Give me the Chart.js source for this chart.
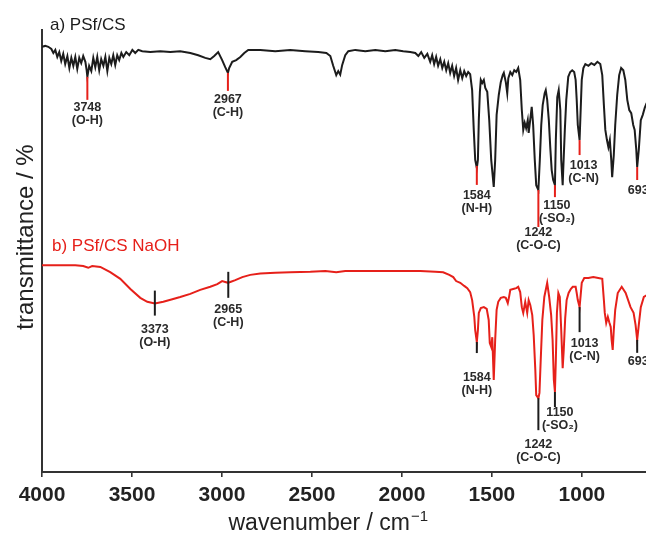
<!DOCTYPE html>
<html>
<head>
<meta charset="utf-8">
<script src="https://cdn.jsdelivr.net/npm/chart.js@4.4.1/dist/chart.umd.min.js"></script>
<style>
  html, body { margin: 0; padding: 0; background: #ffffff; }
  #wrap { width: 646px; height: 533px; }
</style>
</head>
<body>
<div id="wrap"><canvas id="ftir" width="646" height="533"></canvas></div>
<script>
// FTIR spectra: [wavenumber (cm-1), transmittance (offset, a.u.)]
const spectrumA = [
  [4000, 96.2], [3982, 96.4], [3965, 96.2], [3948, 95.7], [3937, 94.8], [3926, 95.5],
  [3915, 93.9], [3904, 95.0], [3893, 93.0], [3882, 94.6], [3871, 92.3], [3859, 94.1],
  [3848, 91.4], [3837, 93.7], [3826, 91.9], [3815, 93.9], [3804, 91.2], [3793, 93.7],
  [3782, 92.5], [3771, 94.1], [3759, 92.8], [3752, 90.9], [3748, 89.4], [3738, 91.9],
  [3726, 90.7], [3715, 93.7], [3704, 91.6], [3693, 93.9], [3682, 90.9], [3671, 93.4],
  [3659, 91.9], [3648, 93.9], [3637, 90.7], [3626, 93.7], [3615, 92.3], [3604, 94.3],
  [3593, 92.1], [3582, 94.3], [3571, 93.2], [3559, 94.8], [3548, 93.9], [3532, 95.0],
  [3515, 94.3], [3498, 95.5], [3482, 94.8], [3465, 95.5], [3443, 95.2], [3398, 95.0],
  [3343, 95.2], [3287, 95.0], [3232, 95.2], [3176, 94.8], [3132, 94.3], [3093, 93.7],
  [3065, 93.4], [3043, 94.1], [3021, 95.0], [2999, 93.2], [2982, 91.6], [2967, 90.3],
  [2960, 91.4], [2943, 92.8], [2921, 93.2], [2898, 93.9], [2876, 94.8], [2854, 95.5],
  [2787, 95.5], [2704, 95.2], [2621, 95.5], [2537, 95.2], [2465, 95.0], [2420, 94.8],
  [2398, 94.1], [2382, 91.9], [2365, 89.8], [2354, 90.7], [2343, 89.9], [2332, 92.1],
  [2315, 94.3], [2298, 95.2], [2259, 95.5], [2204, 95.2], [2148, 95.5], [2093, 95.2],
  [2037, 95.5], [1993, 95.2], [1954, 95.0], [1926, 94.8], [1909, 94.1], [1893, 95.0],
  [1876, 93.7], [1859, 94.6], [1843, 92.8], [1832, 94.3], [1821, 92.3], [1810, 93.9],
  [1799, 91.9], [1787, 93.4], [1776, 91.4], [1765, 92.8], [1754, 90.9], [1743, 92.5],
  [1732, 90.3], [1721, 91.9], [1710, 89.6], [1699, 91.4], [1688, 88.7], [1676, 90.9],
  [1665, 89.1], [1654, 90.7], [1643, 89.6], [1632, 90.5], [1621, 90.0], [1610, 86.4],
  [1601, 77.4], [1593, 70.6], [1584, 68.8], [1578, 70.6], [1573, 79.6], [1567, 86.0],
  [1562, 88.7], [1554, 88.0], [1545, 88.7], [1537, 86.9], [1526, 86.0], [1515, 79.6],
  [1504, 70.6], [1490, 64.5], [1482, 70.6], [1474, 80.8], [1462, 85.3], [1451, 88.2],
  [1440, 89.8], [1434, 90.3], [1423, 88.2], [1415, 85.7], [1409, 89.1], [1398, 90.5],
  [1387, 89.8], [1376, 90.9], [1365, 90.5], [1354, 91.4], [1343, 88.7], [1334, 81.9],
  [1326, 77.4], [1318, 79.0], [1310, 77.8], [1301, 79.6], [1296, 76.7], [1284, 80.8],
  [1279, 82.6], [1271, 78.5], [1262, 70.6], [1254, 64.9], [1242, 63.8], [1234, 70.6],
  [1226, 78.5], [1218, 83.0], [1207, 85.7], [1201, 86.4], [1193, 84.2], [1184, 79.6],
  [1176, 73.5], [1168, 68.3], [1160, 66.1], [1150, 64.9], [1145, 75.1], [1137, 84.8],
  [1129, 86.4], [1120, 81.9], [1115, 70.6], [1107, 64.9], [1104, 68.3], [1095, 77.4],
  [1087, 84.2], [1076, 89.4], [1065, 90.5], [1054, 90.9], [1043, 90.5], [1035, 88.7],
  [1029, 84.2], [1023, 78.5], [1013, 75.1], [1007, 81.9], [1001, 88.7], [992, 91.4],
  [981, 92.3], [964, 91.9], [948, 92.5], [931, 92.1], [914, 92.8], [898, 92.3],
  [887, 89.8], [878, 83.0], [870, 77.4], [861, 75.1], [853, 73.5], [845, 75.1],
  [837, 70.6], [832, 66.7], [823, 71.7], [815, 78.5], [804, 85.3], [793, 89.8],
  [782, 91.4], [770, 90.9], [759, 88.7], [748, 84.2], [737, 81.9], [726, 81.2],
  [715, 78.5], [707, 77.4], [698, 72.9], [693, 69.0], [684, 72.9], [673, 79.6],
  [662, 80.8], [651, 82.4], [640, 83.5]
];

const spectrumB = [
  [4000, 46.8], [3898, 46.8], [3815, 46.8], [3771, 46.6], [3743, 46.2], [3721, 46.6],
  [3676, 46.4], [3621, 45.2], [3565, 43.7], [3509, 41.4], [3454, 39.4], [3415, 38.5],
  [3373, 38.1], [3326, 38.5], [3276, 39.1], [3232, 39.6], [3176, 40.3], [3121, 41.2],
  [3065, 41.9], [3026, 42.5], [2999, 43.2], [2982, 43.0], [2965, 42.8], [2954, 43.0],
  [2926, 43.4], [2887, 44.1], [2843, 44.6], [2787, 44.9], [2704, 45.1], [2621, 45.2],
  [2509, 45.3], [2426, 45.5], [2365, 45.2], [2315, 45.5], [2176, 45.5], [2009, 45.5],
  [1898, 45.5], [1815, 45.3], [1771, 45.2], [1737, 44.6], [1715, 44.1], [1699, 43.2],
  [1676, 42.8], [1654, 42.1], [1637, 41.6], [1621, 40.7], [1610, 38.9], [1598, 35.1],
  [1593, 32.1], [1584, 29.4], [1578, 32.1], [1573, 36.0], [1562, 37.1], [1545, 37.3],
  [1529, 36.9], [1518, 34.4], [1512, 29.2], [1504, 28.3], [1498, 30.5], [1490, 20.8],
  [1482, 29.9], [1474, 36.7], [1465, 38.5], [1451, 39.4], [1434, 39.6], [1423, 39.4],
  [1412, 38.2], [1404, 39.8], [1398, 41.2], [1382, 41.4], [1365, 41.6], [1354, 41.9],
  [1343, 40.7], [1334, 37.3], [1326, 36.0], [1315, 38.5], [1304, 36.0], [1296, 38.9],
  [1287, 37.8], [1276, 35.5], [1268, 31.0], [1259, 23.1], [1254, 17.4], [1242, 16.7],
  [1236, 17.9], [1229, 25.3], [1220, 34.4], [1209, 39.6], [1193, 42.8], [1182, 39.6],
  [1171, 35.5], [1163, 29.9], [1156, 20.8], [1150, 18.1], [1145, 25.3], [1139, 36.0],
  [1131, 40.5], [1123, 39.6], [1115, 32.1], [1107, 23.5], [1101, 27.6], [1093, 34.8],
  [1085, 38.9], [1074, 40.5], [1062, 41.4], [1051, 41.9], [1035, 41.9], [1029, 40.5],
  [1023, 38.9], [1013, 37.3], [1007, 40.0], [1001, 42.8], [987, 43.9], [964, 43.9],
  [937, 44.1], [909, 43.9], [887, 43.7], [878, 38.9], [873, 36.0], [865, 33.7],
  [856, 35.1], [848, 33.9], [840, 32.8], [835, 29.9], [829, 27.6], [823, 32.1],
  [815, 36.7], [801, 40.5], [779, 41.9], [757, 40.5], [730, 37.3], [713, 36.0],
  [702, 33.3], [693, 29.9], [684, 33.3], [673, 37.3], [656, 39.6], [640, 40.0]
];

const seriesNames = ['a) PSf/CS', 'b) PSf/CS NaOH'];

// Assigned bands (cm-1) and their group labels
const peaksA = [3748, 2967, 1584, 1242, 1150, 1013, 693];
const groupsA = ['(O-H)', '(C-H)', '(N-H)', '(C-O-C)', '(-SO\u2082)', '(C-N)', ''];
const peaksB = [3373, 2965, 1584, 1242, 1150, 1013, 693];
const groupsB = ['(O-H)', '(C-H)', '(N-H)', '(C-O-C)', '(-SO\u2082)', '(C-N)', ''];

const xTickValues = [4000, 3500, 3000, 2500, 2000, 1500, 1000];
const xTitle = 'wavenumber / cm';
const xTitleSup = '\u22121';
const yTitle = 'transmittance / %';

// Marker geometry, in px relative to the curve: [line start, line end, first label line, label x shift]
const markLayoutA = [[0, 23, 31, 0], [0, 18, 27, 0], [-2, 17, 28, 0], [0, 37, 43, 0],
                     [0, 12, 20, 2], [0, 15, 25, 4], [0, 13, 24, 1]];
const markLayoutB = [[-13, 12, 26, 0], [-11, 15, 27, 0], [0, 11, 35, 0], [0, 32, 46, 0],
                     [0, 15, 21, 5], [0, 25, 36, 5], [0, 13, 22, 1]];

const FONT = '"Liberation Sans", Arial, Helvetica, sans-serif';
const RED = '#e6201a';
const INK = '#1c1c1c';

function valueAt(series, wn) {
  for (let i = 0; i < series.length - 1; i++) {
    const [w0, v0] = series[i];
    const [w1, v1] = series[i + 1];
    if (wn <= w0 && wn >= w1) {
      return w0 === w1 ? v0 : v0 + (v1 - v0) * (w0 - wn) / (w0 - w1);
    }
  }
  return series[series.length - 1][1];
}

function drawPeaks(chart, series, peaks, groups, layout, markColor) {
  const { ctx, scales: { x, y } } = chart;
  ctx.save();
  ctx.lineWidth = 2;
  ctx.strokeStyle = markColor;
  ctx.fillStyle = '#2a2a2a';
  ctx.font = 'bold 12.5px ' + FONT;
  ctx.textAlign = 'center';
  ctx.textBaseline = 'middle';
  peaks.forEach((wn, i) => {
    const px = x.getPixelForValue(wn);
    const py = y.getPixelForValue(valueAt(series, wn));
    const [a, b, l, dx] = layout[i];
    ctx.beginPath();
    ctx.moveTo(px, py + a);
    ctx.lineTo(px, py + b);
    ctx.stroke();
    ctx.fillText(String(wn), px + dx, py + l);
    if (groups[i]) ctx.fillText(groups[i], px + dx, py + l + 13);
  });
  ctx.restore();
}

const annotations = {
  id: 'ftirAnnotations',
  afterDatasetsDraw(chart) {
    drawPeaks(chart, spectrumA, peaksA, groupsA, markLayoutA, RED);
    drawPeaks(chart, spectrumB, peaksB, groupsB, markLayoutB, INK);
  },
  afterDraw(chart) {
    const { ctx, chartArea } = chart;
    ctx.save();
    // series captions
    ctx.font = '17px ' + FONT;
    ctx.textAlign = 'left';
    ctx.textBaseline = 'middle';
    ctx.fillStyle = INK;
    ctx.fillText(seriesNames[0], chartArea.left + 8, chartArea.top - 5);
    ctx.fillStyle = RED;
    ctx.fillText(seriesNames[1], chartArea.left + 10, chartArea.top + 216);

    // x axis title with superscript
    ctx.fillStyle = '#222';
    ctx.textBaseline = 'alphabetic';
    const mainFont = '23px ' + FONT;
    const supFont = '15px ' + FONT;
    ctx.font = mainFont;
    const wMain = ctx.measureText(xTitle).width;
    ctx.font = supFont;
    const wSup = ctx.measureText(xTitleSup).width;
    const cx = chartArea.left + chartArea.width * 0.474;
    const x0 = cx - (wMain + 1 + wSup) / 2;
    const base = chartArea.bottom + 58;
    ctx.font = mainFont;
    ctx.fillText(xTitle, x0, base);
    ctx.font = supFont;
    ctx.fillText(xTitleSup, x0 + wMain + 1, base - 9);

    // y axis title
    ctx.translate(33, chartArea.top + 207);
    ctx.rotate(-Math.PI / 2);
    ctx.textAlign = 'center';
    ctx.font = '24px ' + FONT;
    ctx.fillText(yTitle, 0, 0);
    ctx.restore();
  }
};

new Chart(document.getElementById('ftir'), {
  type: 'line',
  data: {
    datasets: [
      {
        label: seriesNames[0],
        data: spectrumA.map(([w, t]) => ({ x: w, y: t })),
        borderColor: INK,
        borderWidth: 2,
        pointRadius: 0,
        tension: 0,
        fill: false
      },
      {
        label: seriesNames[1],
        data: spectrumB.map(([w, t]) => ({ x: w, y: t })),
        borderColor: RED,
        borderWidth: 2,
        pointRadius: 0,
        tension: 0,
        fill: false
      }
    ]
  },
  options: {
    responsive: false,
    devicePixelRatio: 1,
    animation: false,
    events: [],
    layout: { padding: { top: 30, right: 0, left: 0, bottom: 0 } },
    plugins: { legend: { display: false }, tooltip: { enabled: false } },
    scales: {
      x: {
        type: 'linear',
        reverse: true,
        min: 644,
        max: 4000,
        afterBuildTicks(scale) { scale.ticks = xTickValues.map(v => ({ value: v })); },
        afterFit(scale) { scale.height = 61; },
        grid: { display: true, drawOnChartArea: false, drawTicks: true, tickLength: 5, color: '#333', lineWidth: 1.6 },
        border: { display: true, color: '#333', width: 2 },
        ticks: {
          autoSkip: false,
          maxRotation: 0,
          padding: 6,
          color: '#222',
          font: { family: FONT, size: 21, weight: 'bold' },
          callback: (value) => String(value)
        }
      },
      y: {
        type: 'linear',
        min: 0,
        max: 100,
        afterFit(scale) { scale.width = 42; },
        grid: { display: false },
        border: { display: true, color: '#333', width: 2 },
        ticks: { display: false }
      }
    }
  },
  plugins: [annotations]
});
</script>
</body>
</html>
